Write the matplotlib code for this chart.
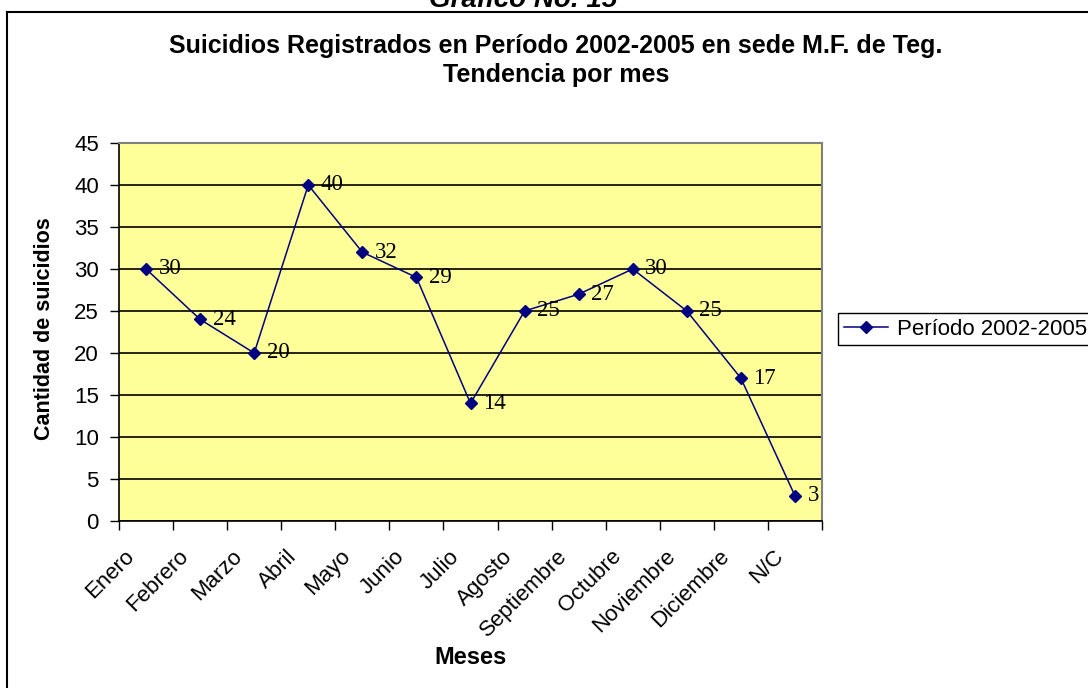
import matplotlib
matplotlib.use("Agg")
import matplotlib.pyplot as plt
from matplotlib.lines import Line2D
import numpy as np

plt.rcParams['font.family'] = ['Liberation Sans', 'DejaVu Sans']

meses = ['Enero', 'Febrero', 'Marzo', 'Abril', 'Mayo', 'Junio', 'Julio',
         'Agosto', 'Septiembre', 'Octubre', 'Noviembre', 'Diciembre', 'N/C']
suicidios = [30, 24, 20, 40, 32, 29, 14, 25, 27, 30, 25, 17, 3]
yticks = [0, 5, 10, 15, 20, 25, 30, 35, 40, 45]

W, H = 1088, 688
fig = plt.figure(figsize=(W / 100, H / 100), dpi=100)

# marco exterior del grafico (solo se ven el borde superior e izquierdo)
fig.add_artist(Line2D([7 / W, 1.0], [1 - 12 / H, 1 - 12 / H], color='black', lw=1.5))
fig.add_artist(Line2D([7 / W, 7 / W], [0, 1 - 12 / H], color='black', lw=1.5))

fig.text(523 / W, 1 - 7 / H, 'Gráfico No. 15', ha='center', va='baseline',
         fontsize=20, fontweight='bold', style='italic')
fig.text(556 / W, 1 - 46 / H, 'Suicidios Registrados en Período 2002-2005 en sede M.F. de Teg.',
         ha='center', va='center', fontsize=18, fontweight='bold')
fig.text(556 / W, 1 - 75 / H, 'Tendencia por mes', ha='center', va='center',
         fontsize=18, fontweight='bold')

ax = fig.add_axes([119 / W, 1 - 521 / H, (822 - 119) / W, (521 - 143) / H])
ax.set_facecolor('#FFFF99')
x = np.arange(len(meses))
ax.plot(x, suicidios, color='#000080', lw=1.1, marker='D', markersize=6,
        label='Período 2002-2005', zorder=3)
for xi, v in zip(x, suicidios):
    ax.annotate(str(v), (xi, v), xytext=(9, 0), textcoords='offset points',
                ha='left', va='center', fontsize=16.5, family='Liberation Serif', zorder=4)

ax.set_xlim(-0.5, len(meses) - 0.5)
ax.set_ylim(0, 45)
ax.set_yticks(yticks)
ax.tick_params(axis='y', labelsize=16, length=6.5, width=1, direction='out', pad=8)
ax.set_xticks(np.arange(-0.5, len(meses), 1.0))
ax.set_xticklabels([])
ax.tick_params(axis='x', length=6.5, width=1, direction='out')
ax.yaxis.grid(True, color='black', lw=1.2)
ax.set_axisbelow(True)
for s in ['top', 'right']:
    ax.spines[s].set_color('#808080')
    ax.spines[s].set_linewidth(1.5)
for s in ['left', 'bottom']:
    ax.spines[s].set_color('black')
    ax.spines[s].set_linewidth(1.2)

for xi, m in zip(x, meses):
    ax.annotate(m, (xi, 0), xytext=(-16, -18), textcoords='offset points',
                ha='right', va='top', rotation=45,
                rotation_mode='anchor', fontsize=16, annotation_clip=False)

fig.text(45 / W, 1 - 329 / H, 'Cantidad de suicidios', rotation=90, ha='center',
         va='center', fontsize=15.5, fontweight='bold')
fig.text(470 / W, 1 - 658 / H, 'Meses', ha='center', va='center',
         fontsize=17, fontweight='bold')

leg = fig.legend(loc='upper left', bbox_to_anchor=(838 / W, 1 - 313 / H), fontsize=16,
                 frameon=True, fancybox=False, edgecolor='black', borderpad=0.25,
                 handlelength=2.0, handletextpad=0.4, borderaxespad=0)
leg.get_frame().set_linewidth(1.0)
leg.get_frame().set_alpha(1)

fig.savefig('out.png', dpi=100)
